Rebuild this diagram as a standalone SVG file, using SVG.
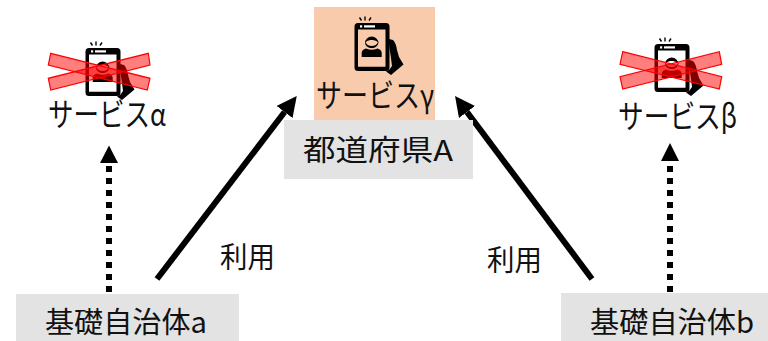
<svg xmlns="http://www.w3.org/2000/svg" xmlns:xlink="http://www.w3.org/1999/xlink" width="768" height="341" viewBox="0 0 768 341">
<style>
text{font-family:"Noto Sans CJK JP","Liberation Sans",sans-serif;font-size:29px;fill:#111}
.kana{font-size:32px}
.gray{fill:#e3e3e3}
.cross{fill:#ff0000;fill-opacity:.5;stroke:#ff0000;stroke-width:1.2}
.solid{fill:none;stroke:#000;stroke-width:6;marker-end:url(#head)}
.dots{fill:none;stroke:#000;stroke-width:6;stroke-dasharray:6 6}
</style>
<defs>
<marker id="head" viewBox="0 0 20 20" refX="0" refY="10" markerUnits="userSpaceOnUse" markerWidth="20" markerHeight="20" orient="auto"><path d="M0 0L20 10L0 20Z" fill="#000"/></marker>
<g id="phone">
<path fill-rule="evenodd" fill="#000" d="M358 23H386Q389.500 23 389.500 26.500V67.500Q389.500 71 386 71H358Q354.500 71 354.500 67.500V26.500Q354.500 23 358 23ZM358 29.500V66.800H385.500V29.500Z"/>
<rect x="364" y="25.300" width="11" height="2.200" fill="#fff"/><rect x="360" y="25.300" width="2.200" height="2.200" fill="#fff"/>
<path d="M359.500 17.500L361.500 20.500M365 16.500V20.500M371 17.500L369 20.500" stroke="#000" stroke-width="1.400" fill="none"/>
<path d="M365 43A6.700 6.500 0 0 1 378.400 43L377 41.500C374 39.500 369 39.500 366.500 41.500Z" fill="#000"/>
<path d="M365 42C365 50 378.400 50 378.400 42L377.500 43C376 47 367.500 47 366 43Z" fill="#000"/>
<path d="M361.700 57V53Q361.700 49.500 366 48.500Q371.700 51 377.500 48.500Q381.700 49.500 381.700 53V57Z" fill="#000"/>
<path d="M387 38.500L393 40Q396 43 397 50L399 57L403.500 64.500L391 75L386 71.500L389.500 69.500L392 66L391 58L389 45Z" fill="#000"/>
</g>
</defs>
<g id="connectors">
<path class="solid" d="M157 279L284.600 112"/>
<path class="solid" d="M592 279L467 112"/>
<path class="dots" d="M109 292V166"/>
<path d="M100 163H118L109 145.500Z" fill="#000"/>
<path class="dots" d="M670 292V166"/>
<path d="M661 161H679L670 143Z" fill="#000"/>
</g>
<g id="node-service-gamma">
<rect x="314" y="7" width="121" height="113" fill="#f8cbad"/>
<use xlink:href="#phone" href="#phone"/>
<text class="kana" x="316" y="107" textLength="118" lengthAdjust="spacingAndGlyphs">サービスγ</text>
</g>
<g id="node-pref-a">
<rect class="gray" x="284" y="120" width="189" height="59"/>
<text x="303" y="161" textLength="150" lengthAdjust="spacingAndGlyphs">都道府県A</text>
</g>
<g id="node-service-alpha">
<use xlink:href="#phone" href="#phone" transform="translate(-269 25)"/>
<path class="cross" d="M50.700 53.300L150 78.300L147.300 90L48.300 65Z"/>
<path class="cross" d="M148.300 53.300L150 65L50.700 90L48.300 78.300Z"/>
<text class="kana" x="48" y="126" textLength="118" lengthAdjust="spacingAndGlyphs">サービスα</text>
</g>
<g id="node-service-beta">
<use xlink:href="#phone" href="#phone" transform="translate(300 21)"/>
<path class="cross" d="M622.700 51.700L721.700 76.700L719.300 89L620 64.300Z"/>
<path class="cross" d="M719.300 51.700L721.700 64.300L622.700 89L620 76.700Z"/>
<text class="kana" x="618" y="128" textLength="119" lengthAdjust="spacingAndGlyphs">サービスβ</text>
</g>
<g id="node-muni-a">
<rect class="gray" x="16" y="294" width="223" height="47"/>
<text x="45" y="333" textLength="162" lengthAdjust="spacingAndGlyphs">基礎自治体a</text>
</g>
<g id="node-muni-b">
<rect class="gray" x="561" y="293" width="207" height="48"/>
<text x="590" y="333" textLength="164" lengthAdjust="spacingAndGlyphs">基礎自治体b</text>
</g>
<text id="label-use-left" x="220" y="268" textLength="55" lengthAdjust="spacingAndGlyphs">利用</text>
<text id="label-use-right" x="487" y="271" textLength="55" lengthAdjust="spacingAndGlyphs">利用</text>
</svg>
